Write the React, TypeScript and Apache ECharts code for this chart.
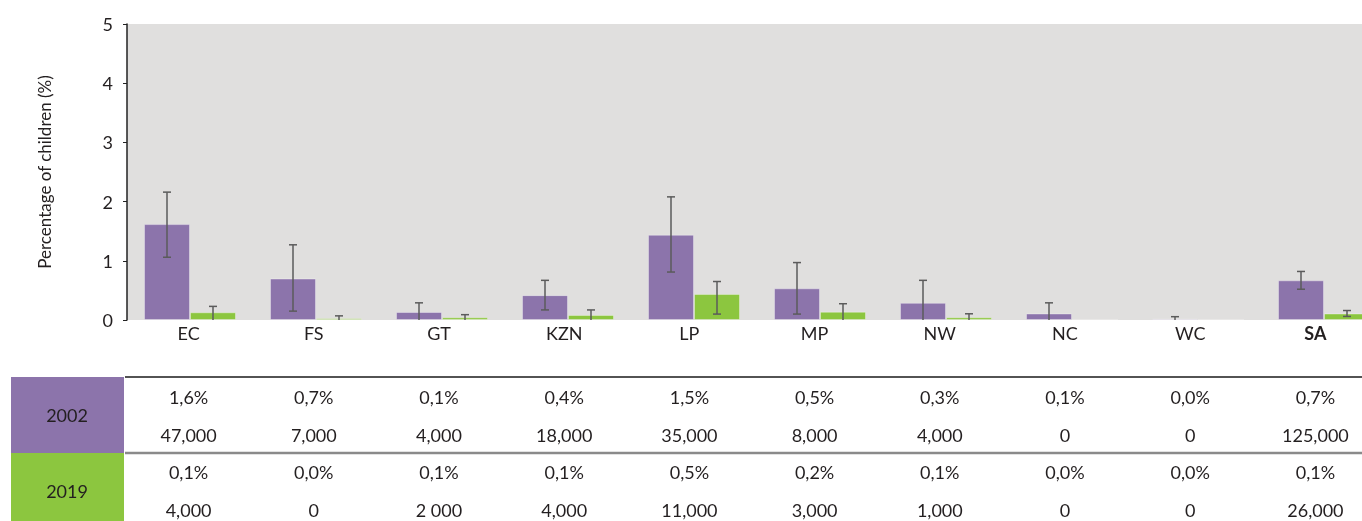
import React, { useEffect, useRef } from "react";
import * as echarts from "echarts";

const categories = ["EC", "FS", "GT", "KZN", "LP", "MP", "NW", "NC", "WC", "SA"];
const yTicks = [0, 1, 2, 3, 4, 5];
const pct2002 = [1.62, 0.7, 0.135, 0.42, 1.44, 0.535, 0.29, 0.11, 0.02, 0.67];
const pct2019 = [0.13, 0.03, 0.045, 0.085, 0.44, 0.14, 0.045, 0, 0, 0.11];
const err2002Low = [1.06, 0.15, 0, 0.17, 0.81, 0.1, 0, 0, 0, 0.52];
const err2002High = [2.16, 1.27, 0.29, 0.67, 2.08, 0.97, 0.67, 0.29, 0.056, 0.82];
const err2019Low: (number | null)[] = [0, 0, 0, 0, 0.1, 0, 0, null, null, 0.06];
const err2019High: (number | null)[] = [0.23, 0.07, 0.09, 0.17, 0.65, 0.275, 0.105, null, null, 0.16];

const pctLabels2002 = ["1,6%", "0,7%", "0,1%", "0,4%", "1,5%", "0,5%", "0,3%", "0,1%", "0,0%", "0,7%"];
const countLabels2002 = ["47,000", "7,000", "4,000", "18,000", "35,000", "8,000", "4,000", "0", "0", "125,000"];
const pctLabels2019 = ["0,1%", "0,0%", "0,1%", "0,1%", "0,5%", "0,2%", "0,1%", "0,0%", "0,0%", "0,1%"];
const countLabels2019 = ["4,000", "0", "2 000", "4,000", "11,000", "3,000", "1,000", "0", "0", "26,000"];
const years = ["2002", "2019"];

const PURPLE = "#8c74ab";
const GREEN = "#8cc63f";
const FONT = "Lato, 'Noto Sans', sans-serif";
const TEXT = "#231f20";
const FS = 18;
const BAR_W = 46;
const CHART_W = 1387;

export default function App() {
  const ref = useRef<HTMLDivElement>(null);
  useEffect(() => {
    if (!ref.current) return;
    const chart = echarts.init(ref.current, undefined, { renderer: "svg" });

    const labelAxis = (labels: string[] | null, offset: number, bold?: string) => ({
      type: "category",
      data: categories,
      gridIndex: 1,
      position: "bottom",
      offset,
      axisLine: { show: false },
      axisTick: { show: false },
      axisLabel: {
        interval: 0,
        margin: 4,
        fontSize: FS,
        fontFamily: FONT,
        color: TEXT,
        formatter: (v: string, i: number) => {
          const t = labels ? labels[i] : v;
          return bold && v === bold ? `{b|${t}}` : t;
        },
        rich: { b: { fontWeight: "bold", fontSize: FS, fontFamily: FONT, color: TEXT } },
      },
    });

    const errSeries = (lo: (number | null)[], hi: (number | null)[], side: number) => ({
      type: "custom",
      xAxisIndex: 0,
      yAxisIndex: 0,
      z: 5,
      data: categories.map((_, i) => [i, lo[i], hi[i]]).filter((d) => d[1] !== null && d[2] !== null),
      renderItem: (params: any, api: any) => {
        const i = api.value(0);
        const l = api.value(1);
        const h = api.value(2);
        const pLo = api.coord([i, l]);
        const pHi = api.coord([i, h]);
        const x = pLo[0] + (side * BAR_W) / 2;
        const cap = 4;
        const st = { stroke: "#5b5b5b", lineWidth: 1.5 };
        const children: any[] = [
          { type: "line", shape: { x1: x, y1: pLo[1], x2: x, y2: pHi[1] }, style: st },
          { type: "line", shape: { x1: x - cap, y1: pHi[1], x2: x + cap, y2: pHi[1] }, style: st },
        ];
        if (l > 0) {
          children.push({ type: "line", shape: { x1: x - cap, y1: pLo[1], x2: x + cap, y2: pLo[1] }, style: st });
        }
        return { type: "group", children };
      },
    });

    chart.setOption({
      animation: false,
      grid: [
        {
          left: 127,
          right: 0,
          top: 24,
          bottom: 201,
          show: true,
          backgroundColor: "#e0dfde",
          borderWidth: 0,
        },
        { left: 126, width: 1252, top: 24, bottom: 201, show: false },
      ],
      xAxis: [
        {
          type: "category",
          data: categories,
          gridIndex: 0,
          position: "bottom",
          axisLine: { show: false },
          axisTick: { show: false },
          axisLabel: { show: false },
        },
        labelAxis(null, 0, "SA"),
        labelAxis(pctLabels2002, 64),
        labelAxis(countLabels2002, 102),
        labelAxis(pctLabels2019, 139),
        labelAxis(countLabels2019, 177),
      ],
      yAxis: [
        {
          type: "value",
          gridIndex: 0,
          min: yTicks[0],
          max: yTicks[yTicks.length - 1],
          interval: 1,
          name: "Percentage of children (%)",
          nameLocation: "middle",
          nameGap: 74,
          nameTextStyle: { fontSize: 17, fontFamily: FONT, color: TEXT },
          axisLine: { show: true, lineStyle: { color: "#222", width: 1.5 } },
          axisTick: { show: true, length: 4, lineStyle: { color: "#222" } },
          splitLine: { show: false },
          axisLabel: { fontSize: FS, fontFamily: FONT, color: TEXT, margin: 14 },
        },
        { type: "value", gridIndex: 1, show: false },
      ],
      series: [
        {
          name: "2002",
          type: "bar",
          data: pct2002,
          barWidth: BAR_W,
          barGap: "0%",
          itemStyle: { color: PURPLE, borderColor: "rgba(255,255,255,0.35)", borderWidth: 1 },
        },
        {
          name: "2019",
          type: "bar",
          data: pct2019,
          barWidth: BAR_W,
          barGap: "0%",
          itemStyle: { color: GREEN, borderColor: "rgba(255,255,255,0.35)", borderWidth: 1 },
        },
        errSeries(err2002Low, err2002High, -1),
        errSeries(err2019Low, err2019High, 1),
      ],
      graphic: [
        { type: "rect", shape: { x: 11, y: 377, width: 113, height: 76 }, style: { fill: PURPLE }, silent: true },
        { type: "rect", shape: { x: 11, y: 453, width: 113, height: 68 }, style: { fill: GREEN }, silent: true },
        {
          type: "text",
          x: 67,
          y: 415,
          style: { text: years[0], fill: TEXT, font: `${FS}px ${FONT}`, textAlign: "center", textVerticalAlign: "middle" },
        },
        {
          type: "text",
          x: 67,
          y: 491,
          style: { text: years[1], fill: TEXT, font: `${FS}px ${FONT}`, textAlign: "center", textVerticalAlign: "middle" },
        },
        { type: "line", shape: { x1: 125, y1: 377, x2: CHART_W, y2: 377 }, style: { stroke: "#1a1a1a", lineWidth: 1.5 } },
        { type: "line", shape: { x1: 125, y1: 453, x2: CHART_W, y2: 453 }, style: { stroke: "#8a8a8a", lineWidth: 2.5 } },
      ],
    });
    return () => chart.dispose();
  }, []);
  return (
    <div style={{ position: "fixed", left: 0, top: 0, width: 1362, height: 521, overflow: "hidden" }}>
      <div ref={ref} style={{ width: CHART_W, height: 521 }} />
    </div>
  );
}
